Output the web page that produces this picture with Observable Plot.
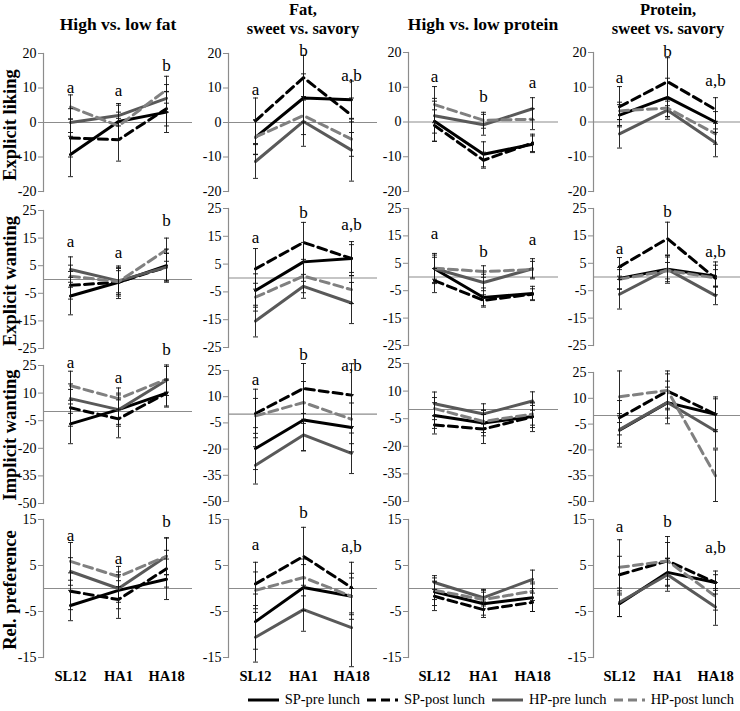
<!DOCTYPE html>
<html><head><meta charset="utf-8">
<script src="https://cdn.jsdelivr.net/npm/d3@7"></script>
<script src="https://cdn.jsdelivr.net/npm/@observablehq/plot@0.6"></script>
<style>
html,body{margin:0;padding:0;background:#fff;}
#chart{position:relative;width:740px;height:711px;overflow:hidden;font-family:"Liberation Serif","Times New Roman",serif;}
#chart .panel{position:absolute;}
#chart .panel text{font-family:"Liberation Serif","Times New Roman",serif;}
#legend{position:absolute;left:0;top:691px;width:740px;display:flex;justify-content:flex-end;align-items:center;font-size:14.5px;color:#000;}
#legend .item{display:flex;align-items:center;margin-left:7px;}
#legend svg{margin-right:6px;}
</style></head><body><div id="chart"><div id="legend"></div></div>
<script>
// ---------- data ----------
const timePoints = ["SL12", "HA1", "HA18"];
const seriesNames = ["SP-pre lunch", "SP-post lunch", "HP-pre lunch", "HP-post lunch"];
const contrastTitles = [["High vs. low fat"], ["Fat,", "sweet vs. savory"], ["High vs. low protein"], ["Protein,", "sweet vs. savory"]];
const measureNames = ["Explicit liking", "Explicit wanting", "Implicit wanting", "Rel. preference"];
const yDomains = [[-20, 20], [-25, 25], [-50, 25], [-15, 15]];
const yTicks = [[20, 10, 0, -10, -20], [25, 15, 5, -5, -15, -25], [25, 10, -5, -20, -35, -50], [15, 5, -5, -15]];

// means[contrast][series][timepoint]; series order: SP-pre, SP-post, HP-pre, HP-post
const likingMeans = [
  [[-9.3, 0.3, 3], [-4.5, -5, 4], [0, 2, 7], [4.5, -1, 9.5]],
  [[-4.3, 7.1, 6.6], [0.5, 13, 2.1], [-11.3, 0.3, -8], [-4.2, 2, -4.8]],
  [[0.2, -9.3, -6.4], [-1, -11, -6], [1.8, -0.8, 3.8], [5, 0.5, 0.8]],
  [[2, 7.1, 0], [4.4, 11.6, 3.6], [-3.4, 3.4, -6], [3.2, 4, -3.4]]
];
const likingErrors = [
  [[6.4, 5.2, 5.9], [5.5, 6.2, 5], [4, 3, 4], [3.5, 4, 3.9]],
  [[5, 7, 5.4], [6.6, 6.5, 5], [4.9, 7.2, 9], [5, 5.5, 5]],
  [[5.8, 3.6, 2.4], [4.5, 2.3, 2.5], [5, 3, 3.2], [5.2, 2.3, 3]],
  [[3, 5.5, 3], [5.8, 6.9, 3.4], [4.1, 2.6, 4], [2.5, 2.5, 3]]
];
const wantingMeans = [
  [[-6, -1, 5], [-2.1, -1, 4.5], [3.6, -0.5, 4.5], [1.2, -0.8, 10.8]],
  [[-4.5, 5.8, 7], [3.3, 12.8, 7], [-15.5, -3, -9], [-6.9, 0.7, -4.2]],
  [[3, -7.5, -6], [-1.3, -8.5, -6.3], [3.1, -2, 3], [3.2, 2, 2.7]],
  [[-0.5, 2.8, 0.3], [3.7, 14, -0.5], [-6.3, 2.8, -6.8], [-0.8, 2.3, -0.3]]
];
const wantingErrors = [
  [[6.8, 5.9, 6], [5, 5, 5], [4.6, 4.9, 5], [4, 4, 4.2]],
  [[6, 7, 6.1], [7.3, 7.2, 5], [5.7, 4.3, 7.4], [5, 6, 5]],
  [[5, 3.5, 2.6], [4.4, 2, 2], [5.5, 3, 3.7], [4, 2.1, 3]],
  [[4, 4.5, 4], [3.4, 6, 6], [5.4, 5.1, 3.3], [3.5, 3, 3]]
];
const implicitMeans = [
  [[-6.7, 1, 10], [2, -4, 10], [7, 1, 17], [14, 7, 17.5]],
  [[-19.7, -3.3, -7.6], [0.4, 14.7, 10.9], [-29.3, -11.9, -22.4], [-1, 6.7, -2.9]],
  [[-3.3, -7.3, -3.8], [-8.4, -10.6, -4], [3.1, -2.4, 4.6], [0.5, -6.5, -2.5]],
  [[-8.6, 7.5, 0.7], [-1.3, 14.2, 0.7], [-8.2, 7.6, -9], [10.9, 14.6, -35]]
];
const implicitErrors = [
  [[10.8, 9, 7.6], [10, 10.3, 7], [8, 8, 8.3], [7.9, 5.8, 7]],
  [[12, 17.7, 14], [13.9, 14.3, 18], [10.7, 9, 11.6], [10, 12, 14]],
  [[7, 7, 6], [4.9, 7.9, 8], [6.4, 5.5, 5], [6, 6, 6]],
  [[9.7, 9, 9], [10, 10, 10.1], [8, 12.4, 10], [15, 11.3, 15]]
];
const preferenceMeans = [
  [[-3.7, -0.4, 2], [-0.6, -2.4, 4.3], [3.7, 0, 7], [5.9, 2.6, 7]],
  [[-7.2, 0.2, -1.7], [1, 7, 0.2], [-10.6, -4.6, -8.5], [-0.4, 2.4, -1.7]],
  [[-0.7, -3.3, -2], [-1.7, -4.6, -3], [1.3, -2, 2], [-0.4, -2.4, -0.6]],
  [[-3.3, 3.5, 1.3], [3, 6, 1.3], [-3, 3, -4], [4.6, 6, -1.7]]
];
const preferenceErrors = [
  [[3.3, 4, 4.4], [4, 4.1, 4], [3, 3, 4], [4.1, 2.2, 4]],
  [[6, 5, 5], [4.7, 6.3, 5.5], [5.4, 4.7, 8.5], [4, 4, 4]],
  [[3, 2.5, 3], [3.1, 1.7, 2], [1.5, 1.8, 2], [2, 2, 2]],
  [[2.8, 3, 2.5], [4, 4, 1.7], [3.1, 3.6, 4], [6, 5.3, 3]]
];
// significance letters per panel [measure][contrast] -> labels per time point, and their y value
const letterLabels = [
  [["a", "a", "b"], ["a", "b", "a,b"], ["a", "b", "a"], ["a", "b", "a,b"]],
  [["a", "a", "b"], ["a", "b", "a,b"], ["a", "b", "a"], ["a", "b", "a,b"]],
  [["a", "a", "b"], ["a", "b", "a,b"], [], []],
  [["a", "a", "b"], ["a", "b", "a,b"], [], ["a", "b", "a,b"]]
];
const letterY = [
  [[10.1, 9.2, 16.6], [9.6, 21, 13.5], [13, 7.2, 11.3], [12.9, 20.2, 12]],
  [[13.8, 9.8, 21.3], [14.6, 23.6, 19.4], [16, 9.2, 13.7], [10.4, 24, 9.2]],
  [[26.4, 18.6, 33.5], [19.7, 34.4, 27.7], [], []],
  [[11.5, 6.5, 14.5], [9.6, 16.5, 9.1], [], [13.5, 14.6, 8.9]]
];

const allMeans = [likingMeans, wantingMeans, implicitMeans, preferenceMeans];
const allErrors = [likingErrors, wantingErrors, implicitErrors, preferenceErrors];

// ---------- layout & style ----------
const axisX = [43, 228, 408, 593];
const frameW = [149, 149, 150, 147];
const frames = [
  [[53, 191], [53, 191], [52, 191], [52, 191]],
  [[210, 348], [208, 347], [208, 345], [208, 345]],
  [[365, 503], [370, 501], [363, 501], [372, 501]],
  [[519, 657], [519, 657], [519, 657], [519, 657]]
];
const seriesStyle = [
  {stroke: "#000000", dash: null},
  {stroke: "#000000", dash: "9,5"},
  {stroke: "#595959", dash: null},
  {stroke: "#808080", dash: "9,5"}
];
const axisGray = "#8c8c8c";
const font = "'Liberation Serif','Times New Roman',serif";
const cap = {draw(ctx, size) { const r = Math.sqrt(size / Math.PI); ctx.moveTo(-r, 0); ctx.lineTo(r, 0); }};

const chart = document.getElementById("chart");

for (let r = 0; r < 4; r++) {
  for (let c = 0; c < 4; c++) {
    const [top, bottom] = frames[r][c];
    const mt = 40, mb = r === 3 ? 30 : 10;
    const rows = [];
    seriesNames.forEach((s, si) => timePoints.forEach((t, ti) => rows.push({
      series: s, si, t, v: allMeans[r][c][si][ti], e: allErrors[r][c][si][ti]
    })));
    const letters = letterLabels[r][c].map((lab, i) => ({t: timePoints[i], label: lab, y: letterY[r][c][i]}));
    const marks = [
      Plot.ruleY([0], {stroke: axisGray, strokeWidth: 1.2}),
      Plot.frame({anchor: "left", stroke: axisGray, strokeWidth: 1.2}),
      Plot.axisY({ticks: yTicks[r], tickSize: 5, tickPadding: 2, stroke: axisGray, fontSize: 14,
        fontFamily: font, label: null, tickFormat: d => String(d)})
    ];
    if (r === 3) marks.push(Plot.axisX({tickSize: 0, tickPadding: 13, fontWeight: "bold", fontSize: 14.5,
      fontFamily: font, label: null}));
    seriesNames.forEach((s, si) => {
      marks.push(Plot.line(rows.filter(d => d.si === si), {
        x: "t", y: "v", stroke: seriesStyle[si].stroke, strokeWidth: 3,
        strokeDasharray: seriesStyle[si].dash, strokeLinejoin: "round"
      }));
    });
    marks.push(
      Plot.ruleX(rows, {x: "t", y1: d => d.v - d.e, y2: d => d.v + d.e, stroke: "#111", strokeWidth: 0.9}),
      Plot.dot(rows, {x: "t", y: d => d.v + d.e, symbol: cap, r: 2.5, stroke: "#111", strokeWidth: 0.9}),
      Plot.dot(rows, {x: "t", y: d => d.v - d.e, symbol: cap, r: 2.5, stroke: "#111", strokeWidth: 0.9}),
      Plot.text(letters, {x: "t", y: "y", text: "label", fontSize: 17, fontFamily: font, fill: "#000"})
    );
    const svg = Plot.plot({
      width: 43 + frameW[c], height: bottom - top + mt + mb,
      marginLeft: 43, marginRight: 0, marginTop: mt, marginBottom: mb,
      x: {type: "point", domain: timePoints, padding: 0.53, axis: null, label: null},
      y: {domain: yDomains[r], axis: null, label: null},
      style: {fontFamily: font, fontSize: "14px", background: "transparent", overflow: "visible", color: "#000"},
      marks
    });
    svg.classList.add("panel");
    svg.style.left = (axisX[c] - 43) + "px";
    svg.style.top = (top - mt) + "px";
    chart.appendChild(svg);
  }
}

// ---------- titles and row labels ----------
const overlay = d3.select(chart).append("svg")
  .attr("width", 740).attr("height", 711)
  .style("position", "absolute").style("left", "0px").style("top", "0px")
  .style("pointer-events", "none").style("font-family", font);
contrastTitles.forEach((lines, c) => {
  const cx = axisX[c] + 75;
  const fs = lines.length === 1 ? 17.5 : 16.5;
  const baselines = lines.length === 1 ? [30] : [15, 34];
  lines.forEach((ln, i) => overlay.append("text")
    .attr("x", cx).attr("y", baselines[i]).attr("text-anchor", "middle")
    .attr("font-weight", "bold").attr("font-size", fs).text(ln));
});
const rowCenters = [125, 281, 435, 590];
measureNames.forEach((m, r) => overlay.append("text")
  .attr("transform", `translate(16,${rowCenters[r]}) rotate(-90)`)
  .attr("text-anchor", "middle").attr("font-weight", "bold").attr("font-size", 18.5).text(m));

// ---------- legend ----------
const legend = d3.select("#legend").style("padding-right", "6px").style("box-sizing", "border-box");
seriesNames.forEach((s, si) => {
  const item = legend.append("div").attr("class", "item");
  const sw = item.append("svg").attr("width", 31).attr("height", 10);
  sw.append("line").attr("x1", 0).attr("x2", 31).attr("y1", 5).attr("y2", 5)
    .attr("stroke", seriesStyle[si].stroke).attr("stroke-width", 3)
    .attr("stroke-dasharray", seriesStyle[si].dash);
  item.append("span").text(s);
});
</script></body></html>
